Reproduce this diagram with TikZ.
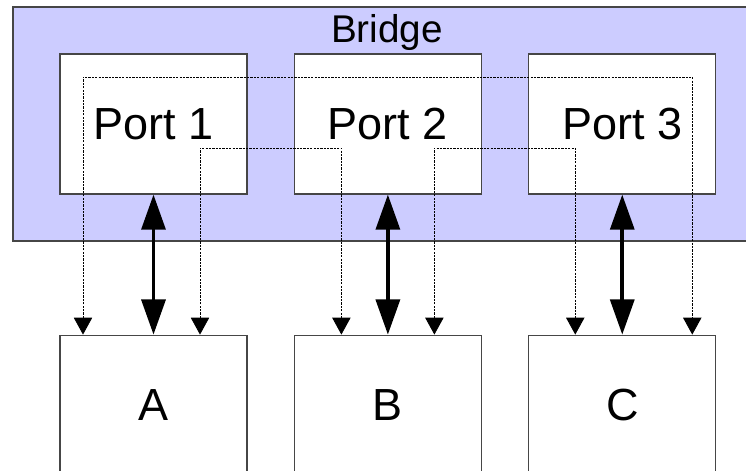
\documentclass[tikz,border=0pt]{standalone}
\usepackage{fontspec}
\setmainfont{Liberation Sans}
\usetikzlibrary{arrows.meta, positioning, calc}
\definecolor{bridgeblue}{RGB}{204,204,255}
\definecolor{edge}{RGB}{70,70,70}

\begin{document}
\begin{tikzpicture}[x=0.025cm, y=-0.025cm,
  box/.style={draw=edge, fill=white, line width=0.8pt, minimum width=4.675cm, minimum height=3.5cm, inner sep=0pt, font=\fontsize{32}{36}\selectfont},
  link/.style={line width=2.6pt, {Triangle[length=25pt,width=17pt]}-{Triangle[length=25pt,width=17pt]}},
  frame/.style={line width=0.6pt, dash pattern=on 1.6pt off 0.8pt, {Triangle[length=12pt,width=13pt]}-{Triangle[length=12pt,width=13pt]}},
  node distance=3.5cm and 1.155cm]
  \useasboundingbox (0,0) rectangle (746,471);
  \clip (0,0) rectangle (746,471);
  % bridge housing
  \draw[draw=edge, fill=bridgeblue, line width=0.8pt] (13,7) rectangle (760,241);
  \node[anchor=base, font=\fontsize{27.5}{30}\selectfont] (bridge) at (387,43) {Bridge};
  \node[box] (p1) at (153.5,124) {Port 1};
  \node[box, right=of p1] (p2) {Port 2};
  \node[box, right=of p2] (p3) {Port 3};
  \node[box, below=of p1] (a) {A};
  \node[box, below=of p2] (b) {B};
  \node[box, below=of p3] (c) {C};
  % forwarding paths
  \coordinate (t1) at ($(p1.center)+(-70.5,-47)$);
  \coordinate (t2) at ($(p3.center)+(70,-47)$);
  \coordinate (m1) at ($(p1.center)+(46.5,24)$);
  \coordinate (m2) at ($(p2.center)+(-46.5,24)$);
  \coordinate (m3) at ($(p2.center)+(46.5,24)$);
  \coordinate (m4) at ($(p3.center)+(-47,24)$);
  \draw[frame] (a.north -| t1) -- (t1) -- (t2) -- (c.north -| t2);
  \draw[frame] (a.north -| m1) -- (m1) -- (m2) -- (b.north -| m2);
  \draw[frame] (b.north -| m3) -- (m3) -- (m4) -- (c.north -| m4);
  \draw[link] (p1.south) -- (a.north);
  \draw[link] (p2.south) -- (b.north);
  \draw[link] (p3.south) -- (c.north);
\end{tikzpicture}
\end{document}
